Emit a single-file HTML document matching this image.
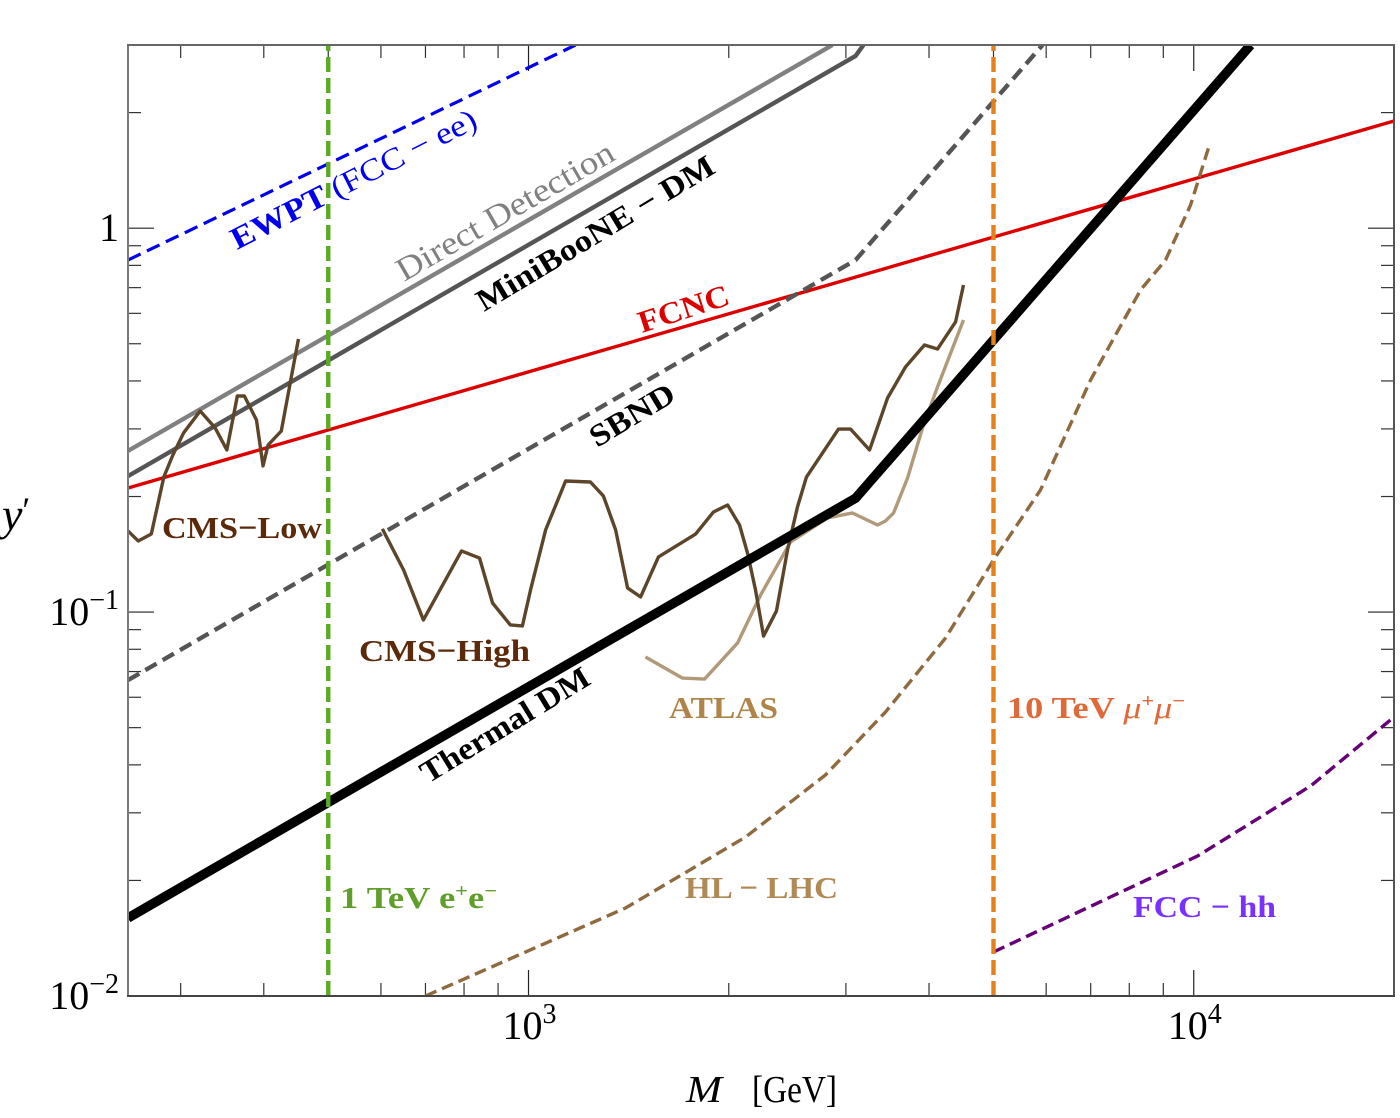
<!DOCTYPE html>
<html lang="en">
<head>
<meta charset="utf-8">
<title>Sensitivity chart: y' versus M</title>
<style>
  html, body { margin: 0; padding: 0; background: #fff; }
  #chart { display: block; width: 1400px; height: 1118px; font-family: "Liberation Serif", "DejaVu Serif", serif; }
  .lbl { font-family: "Liberation Serif", "DejaVu Serif", serif; font-size: 31px; font-weight: bold; }
  .lbln { font-family: "Liberation Serif", "DejaVu Serif", serif; font-size: 33px; font-weight: normal; }
</style>
</head>
<body>
<svg id="chart" xmlns="http://www.w3.org/2000/svg" width="1400" height="1118" viewBox="0 0 1400 1118">
  <defs>
    <clipPath id="plot-clip"><rect x="128" y="45" width="1266" height="951"/></clipPath>
  </defs>
  <g id="ticks"></g>
  <g id="series" clip-path="url(#plot-clip)"></g>
  <g id="frame">
    <line x1="128" y1="45" x2="128" y2="996" stroke="#7a7a7a" stroke-width="2"/>
    <line x1="1394" y1="45" x2="1394" y2="996" stroke="#555" stroke-width="2"/>
    <line x1="127" y1="45" x2="1395" y2="45" stroke="#666" stroke-width="2"/>
    <line x1="127" y1="996" x2="1395" y2="996" stroke="#444" stroke-width="2"/>
  </g>
  <g id="tick-labels"></g>

  <text x="2" y="530" font-size="46" font-style="italic">y<tspan font-size="36" dy="-8" font-style="normal">′</tspan></text>
  <text x="686" y="1102" font-size="38" font-style="italic" textLength="36" lengthAdjust="spacingAndGlyphs">M</text>
  <text x="752" y="1102" font-size="38" textLength="85" lengthAdjust="spacingAndGlyphs">[GeV]</text>

  <text class="lbl" fill="#0000ee" transform="translate(237,250) rotate(-27)" textLength="272" lengthAdjust="spacingAndGlyphs">EWPT <tspan font-weight="normal">(FCC − ee)</tspan></text>
  <text class="lbln" fill="#808080" transform="translate(404,282) rotate(-30)" textLength="246" lengthAdjust="spacingAndGlyphs" font-weight="bold">Direct Detection</text>
  <text class="lbl" fill="#000" transform="translate(484,312) rotate(-31)" textLength="272" lengthAdjust="spacingAndGlyphs">MiniBooNE − DM</text>
  <text class="lbl" fill="#dd0000" transform="translate(642,333) rotate(-18)" textLength="94" lengthAdjust="spacingAndGlyphs">FCNC</text>
  <text class="lbl" fill="#000" transform="translate(597,448) rotate(-31)" textLength="94" lengthAdjust="spacingAndGlyphs">SBND</text>
  <text class="lbl" fill="#000" transform="translate(428,784) rotate(-31.5)" textLength="193" lengthAdjust="spacingAndGlyphs">Thermal DM</text>
  <text class="lbl" fill="#5c2a0a" x="162" y="538" textLength="160" lengthAdjust="spacingAndGlyphs">CMS−Low</text>
  <text class="lbl" fill="#5c2a0a" x="359" y="661" textLength="171" lengthAdjust="spacingAndGlyphs">CMS−High</text>
  <text class="lbl" fill="#b08448" x="669" y="718" textLength="109" lengthAdjust="spacingAndGlyphs">ATLAS</text>
  <text class="lbl" fill="#e0693a" x="1007" y="718" textLength="178" lengthAdjust="spacingAndGlyphs">10 TeV <tspan font-style="italic" font-weight="normal">μ</tspan><tspan font-size="19" dy="-11">+</tspan><tspan font-style="italic" font-weight="normal" dy="11">μ</tspan><tspan font-size="19" dy="-11">−</tspan></text>
  <text class="lbl" fill="#5f9e2a" x="340" y="908" textLength="157" lengthAdjust="spacingAndGlyphs">1 TeV e<tspan font-size="19" dy="-11">+</tspan><tspan dy="11">e</tspan><tspan font-size="19" dy="-11">−</tspan></text>
  <text class="lbl" fill="#b08a55" x="685" y="898" textLength="153" lengthAdjust="spacingAndGlyphs">HL − LHC</text>
  <text class="lbl" fill="#7a30ff" x="1133" y="917" textLength="143" lengthAdjust="spacingAndGlyphs">FCC − hh</text>
</svg>

<script>
// Tick values
const xMajorTicks = [1000, 10000];
const xMinorTicks = [300, 400, 500, 600, 700, 800, 900, 2000, 3000, 4000, 5000, 6000, 7000, 8000, 9000, 20000];
const yMajorTicks = [0.01, 0.1, 1];
const yMinorTicks = [0.02, 0.03, 0.04, 0.05, 0.06, 0.07, 0.08, 0.09, 0.2, 0.3, 0.4, 0.5, 0.6, 0.7, 0.8, 0.9, 2];
const xTickBases = ["10", "10"];
const xTickExponents = ["3", "4"];
const yTickBases = ["10", "10", "1"];
const yTickExponents = ["−2", "−1", ""];

// Series values (M in GeV, y')
const ewptM = [250, 1177];
const ewptY = [0.826, 3];
const directM = [250, 2864];
const directY = [0.263, 3];
const minibooneM = [250, 3102, 3188];
const minibooneY = [0.226, 2.81, 3];
const fcncM = [250, 20000];
const fcncY = [0.2105, 1.902];
const sbndM = [250, 3102, 5925];
const sbndY = [0.0665, 0.826, 3];
const thermalM = [250, 3102, 12175];
const thermalY = [0.01597, 0.198, 3];
const ilcM = [500, 500];
const ilcY = [0.01, 3];
const muonM = [5000, 5000];
const muonY = [0.01, 3];
const hlM = [700, 1399, 2120, 2795, 3440, 4235, 5000, 5884, 6997, 8318, 9070, 9890, 10524];
const hlY = [0.01, 0.01695, 0.02595, 0.03765, 0.0549, 0.0856, 0.1367, 0.208, 0.4023, 0.69, 0.826, 1.149, 1.618];
const fccM = [5000, 10132, 14985, 20000];
const fccY = [0.01302, 0.02315, 0.03524, 0.0533];
const atlasM = [1499, 1704, 1839, 2062, 2233, 2477, 2815, 3069, 3347, 3440, 3538, 3714, 3911, 4119, 4507];
const atlasY = [0.0764, 0.0673, 0.0669, 0.0831, 0.1108, 0.1523, 0.1759, 0.1812, 0.1686, 0.1727, 0.1812, 0.2236, 0.3018, 0.3858, 0.5767];
const cmsLowM = [250, 259, 271, 283, 292, 303, 321, 338, 352, 365, 374, 390, 399, 406, 425, 442, 451];
const cmsLowY = [0.1627, 0.1532, 0.1597, 0.2248, 0.2566, 0.2928, 0.3341, 0.3018, 0.2644, 0.3655, 0.3655, 0.3165, 0.2403, 0.2724, 0.2963, 0.4272, 0.5145];
const cmsHighM = [603, 649, 695, 793, 844, 883, 939, 979, 1007, 1061, 1137, 1239, 1296, 1352, 1409, 1474, 1568, 1783, 1897, 1992, 2076, 2134, 2194, 2256, 2359, 2451, 2537, 2617, 2924, 3048, 3256, 3465, 3687, 3937, 4119, 4385, 4507];
const cmsHighY = [0.1647, 0.1287, 0.0954, 0.1443, 0.1383, 0.1056, 0.0926, 0.092, 0.1142, 0.1637, 0.2195, 0.2182, 0.2006, 0.1637, 0.1156, 0.1095, 0.1392, 0.1597, 0.1823, 0.1901, 0.1686, 0.1425, 0.1142, 0.0866, 0.1007, 0.1451, 0.1879, 0.2248, 0.2998, 0.2998, 0.2644, 0.3611, 0.4349, 0.4963, 0.4844, 0.5698, 0.7112];

// Axis functions (log-log)
const plotLeft = 128, plotRight = 1394, plotTop = 45, plotBottom = 996;
const xMin = 250, xMax = 20000, yMin = 0.01, yMax = 3;
function xScale(m) {
  return plotLeft + (Math.log10(m) - Math.log10(xMin)) / (Math.log10(xMax) - Math.log10(xMin)) * (plotRight - plotLeft);
}
function yScale(v) {
  return plotBottom - (Math.log10(v) - Math.log10(yMin)) / (Math.log10(yMax) - Math.log10(yMin)) * (plotBottom - plotTop);
}

const NS = "http://www.w3.org/2000/svg";
function makePath(ms, ys, color, width, dash, join) {
  const el = document.createElementNS(NS, "path");
  let d = "";
  for (let i = 0; i < ms.length; i++) {
    d += (i ? "L" : "M") + xScale(ms[i]).toFixed(2) + " " + yScale(ys[i]).toFixed(2);
  }
  el.setAttribute("d", d);
  el.setAttribute("fill", "none");
  el.setAttribute("stroke", color);
  el.setAttribute("stroke-width", width);
  el.setAttribute("stroke-linejoin", join || "miter");
  if (dash) el.setAttribute("stroke-dasharray", dash);
  document.getElementById("series").appendChild(el);
  return el;
}

function makeLine(parent, x1, y1, x2, y2, color, width) {
  const el = document.createElementNS(NS, "line");
  el.setAttribute("x1", x1);
  el.setAttribute("y1", y1);
  el.setAttribute("x2", x2);
  el.setAttribute("y2", y2);
  el.setAttribute("stroke", color);
  el.setAttribute("stroke-width", width);
  parent.appendChild(el);
  return el;
}

// Ticks
const tickGroup = document.getElementById("ticks");
for (const t of xMajorTicks) {
  const a = makeLine(tickGroup, xScale(t), plotBottom, xScale(t), plotBottom - 26, "#222", 1.2);
  
  
  const b = makeLine(tickGroup, xScale(t), plotTop, xScale(t), plotTop + 26, "#222", 1.2);
  
  
}
for (const t of xMinorTicks) {
  const a = makeLine(tickGroup, xScale(t), plotBottom, xScale(t), plotBottom - 13, "#333", 1.2);
  
  
  const b = makeLine(tickGroup, xScale(t), plotTop, xScale(t), plotTop + 13, "#333", 1.2);
  
  
}
for (const t of yMajorTicks) {
  const a = makeLine(tickGroup, plotLeft, yScale(t), plotLeft + 26, yScale(t), "#222", 1.2);
  
  
  const b = makeLine(tickGroup, plotRight, yScale(t), plotRight - 26, yScale(t), "#222", 1.2);
  
  
}
for (const t of yMinorTicks) {
  const a = makeLine(tickGroup, plotLeft, yScale(t), plotLeft + 13, yScale(t), "#333", 1.2);
  
  
  const b = makeLine(tickGroup, plotRight, yScale(t), plotRight - 13, yScale(t), "#333", 1.2);
  
  
}

// Tick labels
function makeTickLabel(x, y, anchor, base, exponent) {
  const el = document.createElementNS(NS, "text");
  el.setAttribute("x", x);
  el.setAttribute("y", y);
  el.setAttribute("text-anchor", anchor);
  el.setAttribute("font-size", "40");
  el.setAttribute("fill", "#000");
  el.appendChild(document.createTextNode(base));
  if (exponent) {
    const sup = document.createElementNS(NS, "tspan");
    sup.setAttribute("font-size", "28");
    sup.setAttribute("dy", "-16");
    sup.textContent = exponent;
    el.appendChild(sup);
  }
  document.getElementById("tick-labels").appendChild(el);
  return el;
}
xMajorTicks.forEach(function (t, i) {
  const el = makeTickLabel(xScale(t) + 1, 1039, "middle", xTickBases[i], xTickExponents[i]);
  
  
});
yMajorTicks.forEach(function (t, i) {
  const el = makeTickLabel(119, yScale(t) + 13, "end", yTickBases[i], yTickExponents[i]);
  
  
});

// Series, back to front
const lineEwpt = makePath(ewptM, ewptY, "#0000ee", 3.2, "14 7");


const lineDirect = makePath(directM, directY, "#808080", 4.4);


const lineMini = makePath(minibooneM, minibooneY, "#555555", 4.4);


const lineFcnc = makePath(fcncM, fcncY, "#dd0000", 3.4);


const lineSbnd = makePath(sbndM, sbndY, "#555555", 4.4, "13 7");


const lineHl = makePath(hlM, hlY, "#8f6a3f", 3.4, "12 6");


const lineFcc = makePath(fccM, fccY, "#660077", 3.4, "12 6");


const lineAtlas = makePath(atlasM, atlasY, "#b09a7a", 3.4, null, "round");


const lineCmsLow = makePath(cmsLowM, cmsLowY, "#5c4528", 3.4, null, "round");


const lineCmsHigh = makePath(cmsHighM, cmsHighY, "#5c4528", 3.4, null, "round");


const lineThermal = makePath(thermalM, thermalY, "#000000", 9.5);


const lineIlc = makePath(ilcM, ilcY, "#5aab22", 4.4, "15 6");


const lineMuon = makePath(muonM, muonY, "#e8801a", 4.4, "15 6");


</script>
</body>
</html>
